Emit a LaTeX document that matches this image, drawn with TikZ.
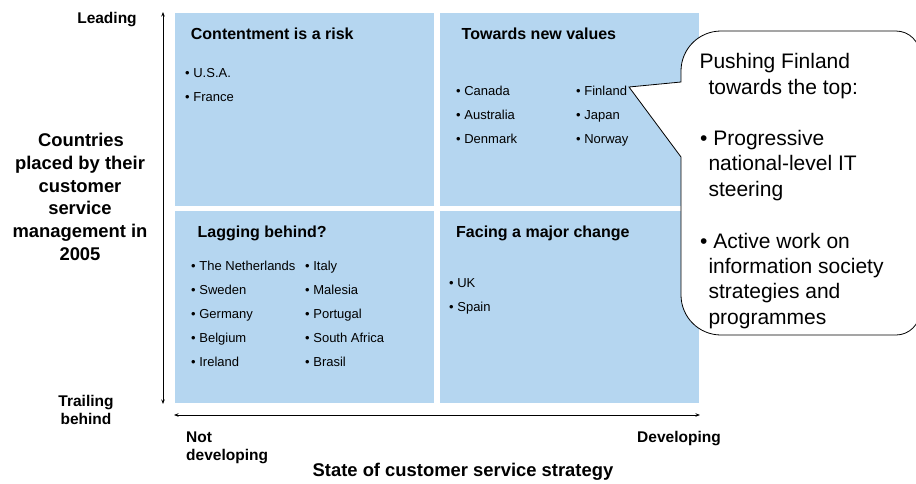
\documentclass[tikz,border=0pt]{standalone}
\usepackage{fontspec}
\setmainfont{Liberation Sans}
\usetikzlibrary{arrows.meta}
\definecolor{qblue}{RGB}{181,214,240}
\tikzset{
  quad/.style={fill=qblue, draw=none, inner sep=0, minimum width=259pt, minimum height=193pt, anchor=north west},
  qtitle/.style={font=\fontsize{16}{18}\selectfont\bfseries, anchor=base west, inner sep=0},
  item/.style={font=\fontsize{13}{15}\selectfont, anchor=base west, inner sep=0},
  axlbl/.style={font=\fontsize{15.5}{18}\selectfont\bfseries, anchor=base west, inner sep=0},
  bigbold/.style={font=\fontsize{18.4}{22}\selectfont\bfseries, anchor=base, inner sep=0},
  calltxt/.style={font=\fontsize{21}{25}\selectfont, anchor=base west, inner sep=0},
  axarrow/.style={line width=0.9pt, {Stealth[length=4.5pt,width=3.5pt]}-{Stealth[length=4.5pt,width=3.5pt]}},
}
\begin{document}
\begin{tikzpicture}[x=1pt,y=-1pt]
\useasboundingbox (0,0) rectangle (916,483);
% quadrants
\node[quad] (q1) at (175,13) {};
\node[quad] (q2) at (440,13) {};
\node[quad, minimum height=192pt] (q3) at (175,211) {};
\node[quad, minimum height=192pt] (q4) at (440,211) {};
% axes
\coordinate (vt) at (163,12);
\coordinate (vb) at (163,404);
\draw[axarrow] (vt) -- (vb);
\coordinate (hl) at (174,415);
\coordinate (hr) at (700,415);
\draw[axarrow] (hl) -- (hr);
% quadrant 1
\node[qtitle] (t1) at (190.7,39) {Contentment is a risk};
\node[item] (usa) at (185,77) {• U.S.A.};
\node[item] (fra) at (185,101.5) {• France};
% quadrant 2
\node[qtitle] (t2) at (461.5,39) {Towards new values};
\node[item] (can) at (456,95.5) {• Canada};
\node[item] (aus) at (456,119.5) {• Australia};
\node[item] (den) at (456,143.5) {• Denmark};
\node[item] (fin) at (576,95.5) {• Finland};
\node[item] (jap) at (576,119.5) {• Japan};
\node[item] (nor) at (576,143.5) {• Norway};
% quadrant 3
\node[qtitle] (t3) at (197.5,237) {Lagging behind?};
\node[item] (ned) at (191,270.5) {• The Netherlands};
\node[item] (swe) at (191,294.5) {• Sweden};
\node[item] (ger) at (191,318.5) {• Germany};
\node[item] (bel) at (191,342.5) {• Belgium};
\node[item] (ire) at (191,366.5) {• Ireland};
\node[item] (ita) at (305,270.5) {• Italy};
\node[item] (mal) at (305,294.5) {• Malesia};
\node[item] (por) at (305,318.5) {• Portugal};
\node[item] (saf) at (305,342.5) {• South Africa};
\node[item] (bra) at (305,366.5) {• Brasil};
% quadrant 4
\node[qtitle] (t4) at (456,237) {Facing a major change};
\node[item] (uk) at (449,287) {• UK};
\node[item] (spa) at (449,311) {• Spain};
% axis labels
\node[axlbl, anchor=base] (lead) at (107,23) {Leading};
\node[axlbl, anchor=base] (trail1) at (86,406) {Trailing};
\node[axlbl, anchor=base] (trail2) at (86,424) {behind};
\node[axlbl] (nd1) at (186,442.5) {Not};
\node[axlbl] (nd2) at (186,460.5) {developing};
\node[axlbl, anchor=base] (dev) at (679,442.5) {Developing};
\node[bigbold] (state) at (463,476) {State of customer service strategy};
\node[bigbold] (c1) at (81,146.7) {Countries};
\node[bigbold] (c2) at (80,169.4) {placed by their};
\node[bigbold] (c3) at (80,192.1) {customer};
\node[bigbold] (c4) at (80,214.8) {service};
\node[bigbold] (c5) at (80,237.5) {management in};
\node[bigbold] (c6) at (80,260.2) {2005};
% callout
\coordinate (tip) at (629,87);
\draw[line width=0.8pt, fill=white] (681,82) -- (681,71)
  .. controls (681,48.9) and (698.9,31) .. (721,31) -- (896,31)
  .. controls (909.25,31) and (920,41.75) .. (920,55) -- (920,311)
  .. controls (920,324.25) and (909.25,335) .. (896,335) -- (721,335)
  .. controls (698.9,335) and (681,317.1) .. (681,295) -- (681,157)
  -- (tip) -- cycle;
\node[calltxt] (p1) at (699.3,68.3) {Pushing Finland};
\node[calltxt] (p2) at (708.3,94) {towards the top:};
\node[calltxt] (p3) at (700,145) {•\ Progressive};
\node[calltxt] (p4) at (708.3,170.5) {national-level IT};
\node[calltxt] (p5) at (708.3,196) {steering};
\node[calltxt] (p6) at (700,248.3) {•\ Active work on};
\node[calltxt] (p7) at (708.3,273.6) {information society};
\node[calltxt] (p8) at (708.3,298.9) {strategies and};
\node[calltxt] (p9) at (708.3,324.2) {programmes};
\end{tikzpicture}
\end{document}
